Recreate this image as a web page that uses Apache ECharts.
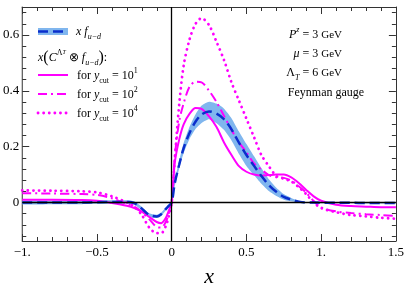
<!DOCTYPE html>
<html><head><meta charset="utf-8">
<script src="https://cdn.jsdelivr.net/npm/echarts@6/dist/echarts.min.js"></script>
<style>html,body{margin:0;padding:0;background:#fff}#c{width:407px;height:294px}</style>
</head><body><div id="c"></div>
<script>
const xs = [-1,-0.8,-0.6,-0.5,-0.4,-0.3,-0.25,-0.2,-0.15,-0.1,-0.07,-0.04,-0.02,0,0.02,0.05,0.08,0.12,0.16,0.2,0.25,0.3,0.35,0.4,0.45,0.5,0.55,0.6,0.65,0.7,0.75,0.8,0.85,0.9,0.95,1.0,1.1,1.2,1.3,1.4,1.5];
const xfVals = [0,0,0,0.001,0.002,0.002,-0.002,-0.022,-0.045,-0.05,-0.042,-0.024,-0.012,0,0.068,0.135,0.195,0.25,0.29,0.315,0.326,0.318,0.298,0.262,0.214,0.17,0.132,0.095,0.062,0.038,0.02,0.01,0.003,0,0,-0.001,-0.001,-0.001,-0.002,-0.002,-0.002];
const bandLow = [-0.006,-0.006,-0.006,-0.005,-0.004,-0.004,-0.008,-0.028,-0.051,-0.056,-0.048,-0.030,-0.018,-0.006,0.058,0.121,0.177,0.228,0.264,0.285,0.298,0.284,0.260,0.222,0.174,0.131,0.098,0.067,0.041,0.023,0.010,0.004,0.0,-0.002,-0.002,-0.003,-0.003,-0.003,-0.004,-0.004,-0.004];
const bandHigh = [0.006,0.006,0.006,0.007,0.008,0.008,0.004,-0.016,-0.039,-0.044,-0.036,-0.018,-0.006,0.006,0.078,0.149,0.213,0.272,0.316,0.347,0.361,0.354,0.336,0.302,0.254,0.209,0.166,0.123,0.083,0.053,0.030,0.016,0.006,0.002,0.002,0.001,0.001,0.001,0.0,0.0,0.0];
const cut1 = [0.01,0.01,0.009,0.006,-0.002,-0.012,-0.02,-0.033,-0.052,-0.07,-0.074,-0.056,-0.03,0,0.14,0.225,0.28,0.318,0.338,0.335,0.308,0.27,0.215,0.17,0.13,0.11,0.1,0.096,0.098,0.1,0.1,0.09,0.07,0.045,0.022,0.006,-0.008,-0.013,-0.015,-0.017,-0.017];
const cut2 = [0.033,0.032,0.03,0.027,0.015,-0.005,-0.015,-0.035,-0.06,-0.088,-0.09,-0.07,-0.04,0,0.16,0.29,0.355,0.415,0.432,0.43,0.4,0.36,0.31,0.26,0.215,0.18,0.14,0.118,0.098,0.09,0.088,0.078,0.058,0.035,0.005,-0.018,-0.032,-0.038,-0.042,-0.045,-0.048];
const cut4 = [0.043,0.042,0.04,0.036,0.022,0.0,-0.015,-0.045,-0.09,-0.11,-0.11,-0.085,-0.05,0,0.15,0.35,0.49,0.585,0.64,0.66,0.635,0.575,0.51,0.43,0.365,0.3,0.235,0.17,0.13,0.095,0.085,0.075,0.055,0.03,0.0,-0.02,-0.035,-0.045,-0.05,-0.055,-0.058];
const xTickLabels = {'-1':'\u22121.','-0.5':'\u22120.5','0':'0','0.5':'0.5','1':'1.','1.5':'1.5'};
const yLabelVals = [0,0.2,0.4,0.6];
const yMinorVals = [-0.12,-0.08,-0.04,0.04,0.08,0.12,0.16,0.24,0.28,0.32,0.36,0.44,0.48,0.52,0.56,0.64,0.68];

const MAG = '#ff00ff', BLUE = '#0a2ecc', BAND = '#80b6ee', FR = '#333';
const SERIF = 'Liberation Serif';
const pairs = a => xs.map((x,i)=>[x,a[i]]);

const chart = echarts.init(document.getElementById('c'), null, {renderer:'canvas'});
const xBase = {
  type:'value', min:-1, max:1.5, interval:0.5,
  axisLine:{show:true,onZero:false,lineStyle:{color:FR,width:1}},
  axisTick:{show:true,inside:true,length:7,lineStyle:{color:FR}},
  minorTick:{show:true,splitNumber:5,length:4,lineStyle:{color:FR}},
  splitLine:{show:false}
};
function yAx(pos, vals, len, labels){
  return {type:'value', min:-0.138, max:0.7, position:pos,
    axisLine:{show:labels!==undefined,onZero:false,lineStyle:{color:FR,width:1}},
    axisTick:{show:true,inside:true,length:len,customValues:vals,lineStyle:{color:FR}},
    axisLabel:{show:!!labels,customValues:vals,margin:3,fontFamily:SERIF,fontSize:13,color:'#000',
      formatter:v=>(Math.abs(v)<1e-9?'0':String(+v.toFixed(2)))},
    splitLine:{show:false}};
}
const lineS = (name,data,type,width,extra) => Object.assign({
  name, type:'line', data:pairs(data), showSymbol:false, symbol:'none', smooth:0.3,
  lineStyle:{color:type.color,width,type:type.dash,cap:type.cap||'butt'}, z:3, silent:true
}, extra||{});

const legendY = [75,94,113];
const graphic = [
  {type:'rect',shape:{x:38,y:28,width:30,height:7},style:{fill:BAND}},
  {type:'line',shape:{x1:38,y1:31.5,x2:68,y2:31.5},style:{stroke:BLUE,lineWidth:2.5,lineDash:[10,5]}},
  {type:'text',x:76,y:32,style:{text:'{i|x f}{sub|u\u2212d}',verticalAlign:'middle',rich:{
    i:{fontFamily:SERIF,fontStyle:'italic',fontSize:12,lineHeight:18},
    sub:{fontFamily:SERIF,fontStyle:'italic',fontSize:8,verticalAlign:'bottom',lineHeight:12}}}},
  {type:'text',x:38,y:58,style:{text:'{i|x}{p|(}{i|C}{sup|\u039B}{sup2|T}{n| \u2297 }{i|f}{sub|u\u2212d}{p|)}{n|:}',verticalAlign:'middle',rich:{
    i:{fontFamily:SERIF,fontStyle:'italic',fontSize:12,lineHeight:18},
    n:{fontFamily:SERIF,fontSize:12,lineHeight:18},
    p:{fontFamily:SERIF,fontSize:16,lineHeight:18},
    sup:{fontFamily:SERIF,fontSize:8,verticalAlign:'top',lineHeight:12},
    sup2:{fontFamily:SERIF,fontStyle:'italic',fontSize:6,verticalAlign:'top',lineHeight:15},
    sub:{fontFamily:SERIF,fontStyle:'italic',fontSize:8,verticalAlign:'bottom',lineHeight:12}}}},
  {type:'line',shape:{x1:38,y1:legendY[0],x2:68,y2:legendY[0]},style:{stroke:MAG,lineWidth:2}},
  {type:'line',shape:{x1:38,y1:legendY[1],x2:68,y2:legendY[1]},style:{stroke:MAG,lineWidth:2,lineDash:[9,4,2,4]}},
  {type:'line',shape:{x1:38,y1:legendY[2],x2:68,y2:legendY[2]},style:{stroke:MAG,lineWidth:2.8,lineDash:[0.1,5.5],lineCap:'round'}}
];
['1','2','4'].forEach((e,k)=>{
  graphic.push({type:'text',x:77,y:legendY[k]+1,style:{text:'{n|for }{i|y}{sub|cut}{n| = 10}{sup|'+e+'}',verticalAlign:'middle',rich:{
    i:{fontFamily:SERIF,fontStyle:'italic',fontSize:12,lineHeight:18},
    n:{fontFamily:SERIF,fontSize:12,lineHeight:18},
    sub:{fontFamily:SERIF,fontSize:8,verticalAlign:'bottom',lineHeight:12},
    sup:{fontFamily:SERIF,fontSize:8,verticalAlign:'top',lineHeight:12}}}});
});
const rt = (t,y)=>({type:'text',x:342,y,style:{text:t,align:'right',verticalAlign:'middle',rich:{
  i:{fontFamily:SERIF,fontStyle:'italic',fontSize:12,lineHeight:18},
  n:{fontFamily:SERIF,fontSize:12,lineHeight:18},
  g:{fontFamily:SERIF,fontSize:11,lineHeight:18},
  sup:{fontFamily:SERIF,fontStyle:'italic',fontSize:8,verticalAlign:'top',lineHeight:12},
  sub:{fontFamily:SERIF,fontStyle:'italic',fontSize:8,verticalAlign:'bottom',lineHeight:12}}}});
graphic.push(rt('{i|P}{sup|z}{n| = 3 }{g|GeV}',35));
graphic.push(rt('{i|\u03BC}{n| = 3 }{g|GeV}',54));
graphic.push(rt('{n|\u039B}{sub|T}{n| = 6 }{g|GeV}',73));
graphic.push({type:'text',x:326,y:93,style:{text:'Feynman gauge',align:'center',verticalAlign:'middle',fontFamily:SERIF,fontSize:12,fill:'#000'}});

const option = {
  animation:false,
  backgroundColor:'#fff',
  grid:{left:19,right:9,top:7,bottom:53},
  xAxis:[
    Object.assign({}, xBase, {position:'bottom', name:'x', nameLocation:'middle', nameGap:25,
      nameTextStyle:{fontFamily:SERIF,fontStyle:'italic',fontSize:22,color:'#000'},
      axisLabel:{show:true,margin:5,fontFamily:SERIF,fontSize:13,color:'#000',
        formatter:v=>{const k=String(+v.toFixed(2)); return xTickLabels[k]!==undefined?xTickLabels[k]:'';}}}),
    Object.assign({}, xBase, {position:'top', axisLabel:{show:false}})
  ],
  yAxis:[
    yAx('left', yLabelVals, 7, true),
    yAx('left', yMinorVals, 4, undefined),
    yAx('right', yLabelVals, 7, false),
    yAx('right', yMinorVals, 4, undefined)
  ],
  graphic,
  series:[
    {type:'custom', silent:true, z:1, clip:true, data:[[0,0]],
      renderItem:(params, api)=>{
        const pts = [];
        for (let i=0;i<xs.length;i++) pts.push(api.coord([xs[i], bandHigh[i]]));
        for (let i=xs.length-1;i>=0;i--) pts.push(api.coord([xs[i], bandLow[i]]));
        return {type:'polygon', shape:{points:pts, smooth:0.2}, style:{fill:BAND}};
      }},
    lineS('xf', xfVals, {color:BLUE,dash:[10,5]}, 2.5, {z:4}),
    lineS('c1', cut1, {color:MAG,dash:'solid'}, 2, {
      markLine:{silent:true,symbol:'none',label:{show:false},animation:false,
        lineStyle:{color:'#000',width:1.3,type:'solid'},
        data:[{xAxis:0},{yAxis:0}]}}),
    lineS('c2', cut2, {color:MAG,dash:[9,4,2,4]}, 2),
    lineS('c4', cut4, {color:MAG,dash:[0.1,5.5],cap:'round'}, 2.8)
  ]
};
chart.setOption(option);
</script></body></html>
